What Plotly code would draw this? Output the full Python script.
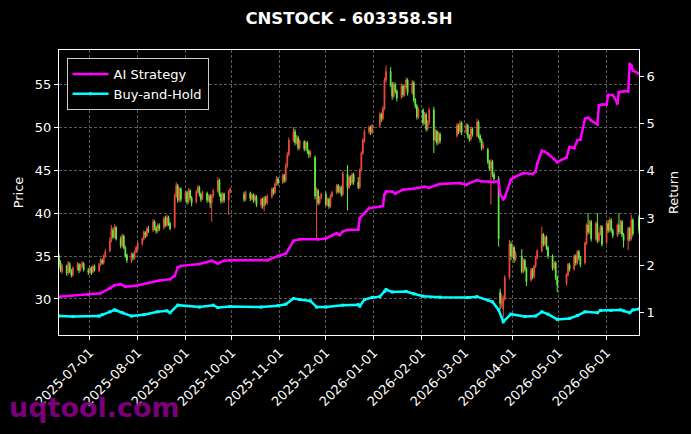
import pandas as pd
import plotly.graph_objects as go

# ---------------- data ----------------
start_date = "2025-06-11"
end_date = "2026-06-22"
holidays = ["2025-10-01", "2025-10-02", "2025-10-03", "2025-10-06", "2025-10-07", "2025-10-08",
            "2026-01-01", "2026-01-02",
            "2026-02-16", "2026-02-17", "2026-02-18", "2026-02-19", "2026-02-20", "2026-02-23",
            "2026-04-06", "2026-05-01", "2026-05-04", "2026-05-05", "2026-06-19"]
dates = [d.strftime("%Y-%m-%d") for d in pd.bdate_range(start_date, end_date)
         if d.strftime("%Y-%m-%d") not in holidays]

open_ = [
    35.0, 34.2, 33.2, 33.8, 33.0, 34.0, 33.2, 32.8, 33.5, 34.0, 33.4, 33.9, 34.1, 33.3,  # Jun
    33.2, 33.6, 33.1, 33.8, 33.3, 34.0, 34.5, 34.2, 35.0, 35.6, 36.8, 38.0, 37.3, 38.3, 37.0, 36.2, 37.3, 36.0, 35.1, 34.4, 35.2, 34.8, 35.5,  # Jul
    35.8, 36.4, 37.0, 37.7, 37.4, 38.1, 38.0, 39.0, 38.3, 37.9, 38.6, 38.3, 39.3, 38.6, 39.5, 38.8, 38.4, 42.0, 43.2, 41.5, 42.8,  # Aug
    41.6, 42.4, 41.3, 42.6, 41.8, 41.3, 42.5, 43.0, 42.2, 41.7, 42.3, 41.5, 42.0, 41.2, 42.0, 42.6, 43.8, 42.2, 41.4, 42.2, 41.5, 42.5,  # Sep
    42.2, 41.6, 42.3, 41.7, 42.1, 41.5, 41.9, 41.0, 41.6, 40.8, 41.8, 41.2, 41.9, 42.8, 42.4, 43.4, 44.0,  # Oct
    43.6, 44.4, 43.8, 45.5, 46.8, 48.5, 49.5, 48.2, 48.8, 47.6, 48.3, 47.5, 48.2, 47.2, 46.8, 46.5, 42.2, 42.6, 41.2, 41.8,  # Nov
    42.2, 41.0, 41.6, 40.8, 42.0, 42.4, 43.2, 42.5, 43.0, 42.2, 44.6, 43.0, 44.2, 43.5, 44.5, 43.6, 43.0, 45.0, 47.0, 48.4, 49.5, 50.0, 49.4,  # Dec
    50.2, 51.5, 51.0, 52.2, 55.5, 56.5, 55.0, 53.6, 55.0, 54.2, 53.5, 54.8, 53.8, 54.6, 55.5, 54.0, 55.2, 53.2, 52.5, 51.2,  # Jan
    52.0, 50.5, 51.5, 49.8, 50.5, 52.0, 48.5, 49.5, 48.2, 49.2, 49.0, 50.2, 49.5, 50.5,  # Feb
    49.4, 50.2, 49.0, 48.6, 49.8, 49.0, 50.6, 49.0, 48.5, 47.6, 47.4, 46.0, 45.2, 46.0, 44.5, 44.0, 30.8, 29.4, 28.8, 30.0, 32.5, 36.4,  # Mar
    35.0, 36.0, 34.6, 35.0, 33.2, 34.5, 33.5, 32.2, 33.4, 32.6, 33.8, 34.8, 35.6, 37.5, 36.4, 37.2, 36.0, 35.0, 33.6, 34.2, 32.5,  # Apr
    31.8, 32.8, 34.0, 33.5, 35.0, 34.2, 35.5, 34.8, 34.2, 36.5, 38.6, 37.8, 39.0, 37.0, 38.8, 36.8, 37.6, 38.4,  # May
    36.6, 38.8, 38.0, 39.2, 38.0, 37.4, 38.6, 37.8, 39.0, 37.5, 36.8, 38.2, 37.0, 39.2, 39.5,  # Jun
]
high = [
    35.3, 34.5, 34.1, 34.0, 34.4, 34.3, 33.5, 33.8, 34.3, 34.2, 34.1, 34.4, 34.3, 33.6,
    33.8, 33.8, 34.0, 34.0, 34.2, 34.8, 34.7, 35.2, 35.8, 37.2, 38.6, 38.3, 38.7, 38.5, 37.3, 37.6, 37.5, 36.2, 35.3, 35.4, 35.4, 35.7, 36.2,
    36.7, 37.2, 38.0, 37.9, 38.4, 38.5, 39.3, 39.2, 38.5, 38.8, 38.8, 39.6, 39.7, 39.8, 39.7, 39.0, 42.3, 43.6, 43.4, 43.0, 43.0,
    42.6, 42.6, 42.9, 42.8, 42.0, 42.7, 43.3, 43.2, 42.4, 42.6, 42.5, 42.2, 42.2, 42.2, 42.8, 44.2, 44.0, 42.4, 42.4, 42.4, 42.7, 43.0,
    42.5, 42.6, 42.5, 42.3, 42.3, 42.2, 42.1, 41.8, 41.8, 42.0, 42.0, 42.2, 43.0, 43.0, 43.6, 44.3, 44.2,
    44.6, 44.6, 45.8, 47.1, 48.8, 50.0, 49.8, 49.1, 49.0, 48.6, 48.5, 48.4, 48.4, 47.4, 47.3, 46.7, 43.0, 42.8, 42.0, 42.4,
    42.5, 41.8, 41.8, 42.2, 42.6, 43.4, 43.4, 43.2, 43.2, 44.9, 45.6, 44.4, 44.4, 44.7, 44.7, 44.2, 45.2, 47.2, 48.7, 49.8, 50.2, 50.2, 50.4,
    51.8, 51.7, 52.5, 55.8, 57.2, 57.0, 55.3, 55.3, 55.2, 54.4, 55.1, 55.0, 54.9, 55.8, 55.7, 55.5, 55.4, 53.4, 52.7, 52.3,
    52.2, 51.8, 51.7, 50.8, 52.3, 52.4, 49.8, 49.7, 49.5, 49.4, 50.5, 50.4, 50.8, 50.7,
    50.5, 50.4, 49.2, 50.1, 50.0, 51.0, 50.8, 49.2, 48.7, 48.3, 47.6, 46.2, 46.3, 46.2, 44.8, 44.3, 31.2, 30.6, 30.4, 32.8, 36.9, 36.7,
    36.4, 36.2, 35.6, 35.8, 34.7, 34.7, 33.7, 33.6, 33.6, 34.0, 35.0, 35.8, 38.4, 37.7, 37.4, 37.4, 36.2, 35.2, 34.4, 34.4, 32.7,
    33.0, 34.2, 34.2, 35.2, 35.2, 35.7, 35.7, 35.0, 36.7, 38.8, 40.0, 39.2, 39.2, 39.0, 40.0, 37.8, 38.6, 38.6,
    39.0, 39.2, 39.5, 39.4, 38.2, 38.8, 40.0, 39.2, 39.2, 37.7, 38.4, 38.4, 39.8, 39.4, 39.8,
]
low = [
    33.6, 33.1, 32.9, 32.7, 32.8, 33.0, 32.5, 32.6, 33.3, 33.0, 33.2, 33.6, 33.2, 32.8,
    32.9, 32.8, 33.0, 33.2, 33.1, 33.8, 34.0, 34.0, 34.8, 35.4, 36.6, 37.0, 37.1, 36.8, 35.9, 36.0, 35.8, 34.8, 34.2, 34.2, 34.5, 34.6, 35.3,
    35.6, 36.2, 36.8, 37.1, 37.2, 37.7, 37.8, 38.0, 37.6, 37.7, 37.9, 38.1, 38.4, 38.4, 38.5, 38.0, 38.2, 41.8, 41.2, 41.3, 41.3,
    41.4, 41.0, 41.1, 41.5, 40.8, 41.1, 42.3, 41.9, 41.3, 41.5, 41.2, 41.3, 40.6, 39.0, 41.8, 42.4, 41.9, 41.1, 41.2, 41.2, 39.8, 42.3,
    41.3, 41.4, 41.4, 41.5, 41.2, 41.3, 40.7, 40.6, 40.5, 40.2, 40.9, 41.0, 41.7, 42.1, 42.2, 43.2, 43.2,
    43.4, 43.5, 43.6, 45.3, 46.6, 48.3, 47.9, 48.0, 47.3, 47.4, 47.2, 47.3, 46.9, 46.4, 46.5, 41.6, 37.1, 40.9, 41.0, 41.6,
    40.8, 40.8, 40.5, 40.6, 41.8, 42.2, 42.3, 42.3, 41.9, 42.0, 40.3, 42.8, 43.2, 43.3, 43.3, 42.8, 42.8, 44.8, 46.8, 48.2, 49.2, 49.1, 49.2,
    50.0, 50.6, 50.8, 52.0, 55.2, 54.7, 53.2, 53.4, 53.9, 53.0, 53.3, 53.5, 53.6, 54.4, 53.7, 53.8, 52.9, 52.2, 50.9, 51.0,
    50.2, 50.3, 49.5, 49.6, 50.3, 47.0, 48.3, 47.9, 48.0, 48.1, 48.8, 49.2, 49.3, 49.1,
    49.2, 48.7, 48.3, 48.4, 48.9, 48.8, 48.7, 48.2, 47.3, 47.4, 45.7, 44.9, 41.0, 44.2, 43.7, 36.1, 28.8, 29.0, 27.8, 29.8, 32.3, 34.5,
    34.8, 34.2, 34.4, 33.0, 33.0, 33.2, 31.5, 32.0, 32.3, 32.4, 33.6, 34.6, 35.4, 36.1, 36.2, 35.7, 34.7, 33.3, 33.4, 32.2, 30.8,
    31.6, 32.6, 33.2, 33.3, 33.9, 34.0, 34.5, 33.7, 34.0, 36.3, 37.5, 37.6, 36.7, 36.8, 36.5, 36.6, 37.4, 36.1,
    36.4, 37.7, 37.8, 37.7, 37.1, 37.2, 37.5, 37.6, 37.2, 36.0, 35.7, 36.7, 36.8, 37.3, 37.6,
]
close = [
    34.0, 33.4, 33.9, 33.0, 34.2, 33.2, 32.8, 33.6, 34.1, 33.3, 33.9, 34.2, 33.4, 33.1,
    33.6, 33.0, 33.8, 33.4, 34.0, 34.6, 34.2, 35.0, 35.5, 36.8, 38.2, 37.2, 38.4, 37.0, 36.2, 37.4, 36.0, 35.0, 34.5, 35.2, 34.8, 35.5, 36.0,
    36.5, 37.0, 37.8, 37.4, 38.2, 38.0, 39.0, 38.3, 37.9, 38.6, 38.2, 39.4, 38.6, 39.5, 38.8, 38.2, 42.0, 43.2, 41.5, 42.8, 41.6,
    42.4, 41.3, 42.6, 41.8, 41.2, 42.5, 43.0, 42.2, 41.6, 42.4, 41.5, 42.0, 41.2, 42.0, 42.6, 43.8, 42.2, 41.4, 42.2, 41.5, 42.5, 42.8,
    41.6, 42.4, 41.7, 42.1, 41.5, 42.0, 41.0, 41.6, 40.8, 41.8, 41.2, 42.0, 42.8, 42.4, 43.4, 44.0, 43.5,
    44.4, 43.8, 45.5, 46.8, 48.5, 49.5, 48.2, 48.8, 47.6, 48.4, 47.5, 48.2, 47.2, 46.8, 47.0, 42.0, 42.8, 41.2, 41.8, 42.2,
    41.0, 41.6, 40.8, 42.0, 42.4, 43.2, 42.5, 43.0, 42.2, 44.6, 43.0, 44.2, 43.5, 44.5, 43.6, 43.0, 45.0, 47.0, 48.5, 49.5, 50.0, 49.4, 50.2,
    51.5, 51.0, 52.2, 55.5, 56.5, 55.0, 53.6, 55.0, 54.2, 53.4, 54.8, 53.8, 54.6, 55.5, 54.0, 55.2, 53.2, 52.5, 51.2, 52.0,
    50.5, 51.5, 49.8, 50.5, 52.0, 48.5, 49.5, 48.2, 49.2, 48.4, 50.2, 49.5, 50.5, 49.4,
    50.2, 49.0, 48.6, 49.8, 49.2, 50.6, 49.0, 48.5, 47.6, 48.0, 46.0, 45.2, 46.0, 44.5, 44.0, 37.0, 29.5, 30.2, 30.0, 32.5, 36.4, 35.0,
    36.0, 34.6, 35.3, 33.2, 34.5, 33.5, 32.0, 33.4, 32.6, 33.8, 34.8, 35.6, 37.5, 36.4, 37.2, 36.0, 35.0, 33.6, 34.2, 32.5, 31.6,
    32.8, 34.0, 33.5, 35.0, 34.2, 35.5, 34.8, 34.0, 36.5, 38.6, 37.8, 39.0, 37.0, 38.8, 36.8, 37.6, 38.4, 36.4,
    38.8, 38.0, 39.2, 38.0, 37.4, 38.6, 37.8, 39.0, 37.5, 36.8, 38.2, 37.0, 39.2, 37.6, 38.0,
]

ai_dates = ["2025-06-11", "2025-06-30", "2025-07-08", "2025-07-14", "2025-07-17", "2025-07-21", "2025-07-24",
            "2025-07-31", "2025-08-08", "2025-08-15", "2025-08-22", "2025-08-25", "2025-08-27", "2025-08-29",
            "2025-09-10", "2025-09-18", "2025-09-22", "2025-09-26", "2025-09-30", "2025-10-24", "2025-10-31",
            "2025-11-05", "2025-11-07", "2025-11-10", "2025-11-14", "2025-11-26", "2025-12-01", "2025-12-05",
            "2025-12-08", "2025-12-10", "2025-12-12", "2025-12-15", "2025-12-22", "2025-12-23", "2025-12-26",
            "2025-12-29", "2026-01-05", "2026-01-07", "2026-01-08", "2026-01-09", "2026-01-13", "2026-01-15",
            "2026-01-20", "2026-01-27", "2026-02-03", "2026-02-06", "2026-02-11", "2026-02-13", "2026-02-26",
            "2026-03-02", "2026-03-04", "2026-03-09", "2026-03-12", "2026-03-17", "2026-03-20", "2026-03-23",
            "2026-03-24", "2026-03-26", "2026-03-27", "2026-03-31", "2026-04-02", "2026-04-08", "2026-04-14",
            "2026-04-16", "2026-04-17", "2026-04-20", "2026-04-22", "2026-04-24", "2026-04-28", "2026-04-30",
            "2026-05-06", "2026-05-08", "2026-05-11", "2026-05-13", "2026-05-15", "2026-05-18", "2026-05-20",
            "2026-05-22", "2026-05-26", "2026-05-27", "2026-05-29", "2026-06-01", "2026-06-02", "2026-06-05",
            "2026-06-08", "2026-06-09", "2026-06-12", "2026-06-15", "2026-06-16", "2026-06-17", "2026-06-18",
            "2026-06-22"]
ai_return = [1.34, 1.38, 1.41, 1.52, 1.58, 1.60, 1.55,
             1.57, 1.63, 1.68, 1.71, 1.78, 1.96, 1.99,
             2.03, 2.10, 2.04, 2.10, 2.11, 2.11, 2.20,
             2.25, 2.35, 2.52, 2.55, 2.55, 2.57, 2.63,
             2.68, 2.64, 2.72, 2.75, 2.76, 3.00, 3.10,
             3.21, 3.24, 3.26, 3.50, 3.56, 3.56, 3.52,
             3.60, 3.62, 3.66, 3.64, 3.70, 3.72, 3.74,
             3.70, 3.74, 3.80, 3.78, 3.76, 3.76, 3.78,
             3.50, 3.40, 3.44, 3.82, 3.86, 3.95, 3.93,
             3.98, 4.15, 4.42, 4.40, 4.36, 4.25, 4.18,
             4.28, 4.50, 4.48, 4.64, 4.66, 5.10, 5.12,
             5.06, 4.98, 5.38, 5.40, 5.40, 5.60, 5.60,
             5.42, 5.66, 5.68, 5.68, 6.26, 6.22, 6.12,
             6.05]

bh_dates = ["2025-06-11", "2025-06-20", "2025-07-07", "2025-07-09", "2025-07-14", "2025-07-17", "2025-07-18",
            "2025-07-22", "2025-07-28", "2025-08-05", "2025-08-14", "2025-08-20", "2025-08-22", "2025-08-27",
            "2025-09-10", "2025-09-19", "2025-09-22", "2025-09-30", "2025-10-20", "2025-10-31", "2025-11-05",
            "2025-11-10", "2025-11-14", "2025-11-21", "2025-11-25", "2025-12-01", "2025-12-12", "2025-12-22",
            "2025-12-23", "2025-12-26", "2025-12-31", "2026-01-05", "2026-01-08", "2026-01-09", "2026-01-13",
            "2026-01-22", "2026-01-27", "2026-02-02", "2026-02-13", "2026-03-03", "2026-03-09", "2026-03-16",
            "2026-03-19", "2026-03-23", "2026-03-26", "2026-03-31", "2026-04-09", "2026-04-16", "2026-04-20",
            "2026-04-24", "2026-04-30", "2026-05-08", "2026-05-13", "2026-05-18", "2026-05-26", "2026-05-28",
            "2026-06-04", "2026-06-10", "2026-06-12", "2026-06-16", "2026-06-18", "2026-06-22"]
bh_return = [0.93, 0.92, 0.93, 0.96, 1.02, 1.06, 1.05,
             1.00, 0.93, 0.96, 1.02, 1.04, 1.00, 1.16,
             1.12, 1.16, 1.11, 1.13, 1.12, 1.15, 1.18,
             1.30, 1.28, 1.25, 1.12, 1.12, 1.16, 1.17,
             1.14, 1.28, 1.32, 1.34, 1.45, 1.49, 1.44,
             1.45, 1.40, 1.35, 1.33, 1.32, 1.34, 1.27,
             1.23, 1.06, 0.81, 0.97, 0.92, 0.93, 1.02,
             0.97, 0.86, 0.88, 0.94, 1.02, 1.00, 1.05,
             1.05, 1.06, 1.04, 1.00, 1.06, 1.08]

assert len(dates) == len(open_) == len(high) == len(low) == len(close), (len(dates), len(open_), len(high), len(low), len(close))
assert len(ai_dates) == len(ai_return) and len(bh_dates) == len(bh_return)

UP = "#f04a3c"
DOWN = "#66ee44"
GRID = "#5a5a5a"

fig = go.Figure()
fig.add_trace(go.Candlestick(
    x=dates, open=open_, high=high, low=low, close=close,
    increasing=dict(line=dict(color=UP, width=1), fillcolor=UP),
    decreasing=dict(line=dict(color=DOWN, width=1), fillcolor=DOWN),
    whiskerwidth=0, showlegend=False, yaxis="y", hoverinfo="skip"))
fig.add_trace(go.Scatter(
    x=ai_dates, y=ai_return, mode="lines+markers", name="AI Strategy",
    line=dict(color="#ff00ff", width=2.5), marker=dict(symbol="circle", size=3, color="#ff00ff"),
    yaxis="y2"))
fig.add_trace(go.Scatter(
    x=bh_dates, y=bh_return, mode="lines+markers", name="Buy-and-Hold",
    line=dict(color="#00ffff", width=2.5), marker=dict(symbol="square", size=3, color="#00ffff"),
    yaxis="y2"))

axis_common = dict(showline=True, linecolor="white", linewidth=1, ticks="outside", ticklen=4,
                   tickcolor="white", zeroline=False, tickfont=dict(size=13, color="white"))

fig.update_layout(
    width=691, height=434,
    paper_bgcolor="black", plot_bgcolor="black",
    margin=dict(l=59, r=48, t=50, b=99),
    font=dict(family="DejaVu Sans", color="white", size=13),
    title=dict(text="<b>CNSTOCK - 603358.SH</b>", x=0.5, xref="paper", xanchor="center",
               y=1 - 18 / 434, yref="container", yanchor="middle",
               font=dict(size=16.5, color="white", family="DejaVu Sans")),
    xaxis=dict(type="date", range=[dates[0], dates[-1]], rangeslider=dict(visible=False),
               tick0="2025-07-01", dtick="M1", tickformat="%Y-%m-%d", tickangle=-45,
               showgrid=True, gridcolor=GRID, griddash="3px,2px", gridwidth=0.6, mirror=True,
               **axis_common),
    yaxis=dict(title=dict(text="Price", font=dict(size=13), standoff=8), range=[25.8, 59.0], dtick=5,
               showgrid=True, gridcolor=GRID, griddash="3px,2px", gridwidth=0.6, mirror=False,
               **axis_common),
    yaxis2=dict(title=dict(text="Return", font=dict(size=13)), overlaying="y", side="right",
                range=[0.53, 6.55], dtick=1, showgrid=False, **axis_common),
    legend=dict(x=0.013, y=0.972, xanchor="left", yanchor="top", bgcolor="black",
                bordercolor="#cccccc", borderwidth=1, font=dict(size=13, color="white"),
                itemwidth=36, tracegroupgap=2),
    showlegend=True,
    annotations=[dict(text="<b>uqtool.com</b>", x=-0.09, y=-0.256, xref="paper", yref="paper",
                      xanchor="left", yanchor="middle", showarrow=False,
                      font=dict(size=27, color="#880088", family="DejaVu Sans"), opacity=0.9)],
)

fig.write_html("out.html")
